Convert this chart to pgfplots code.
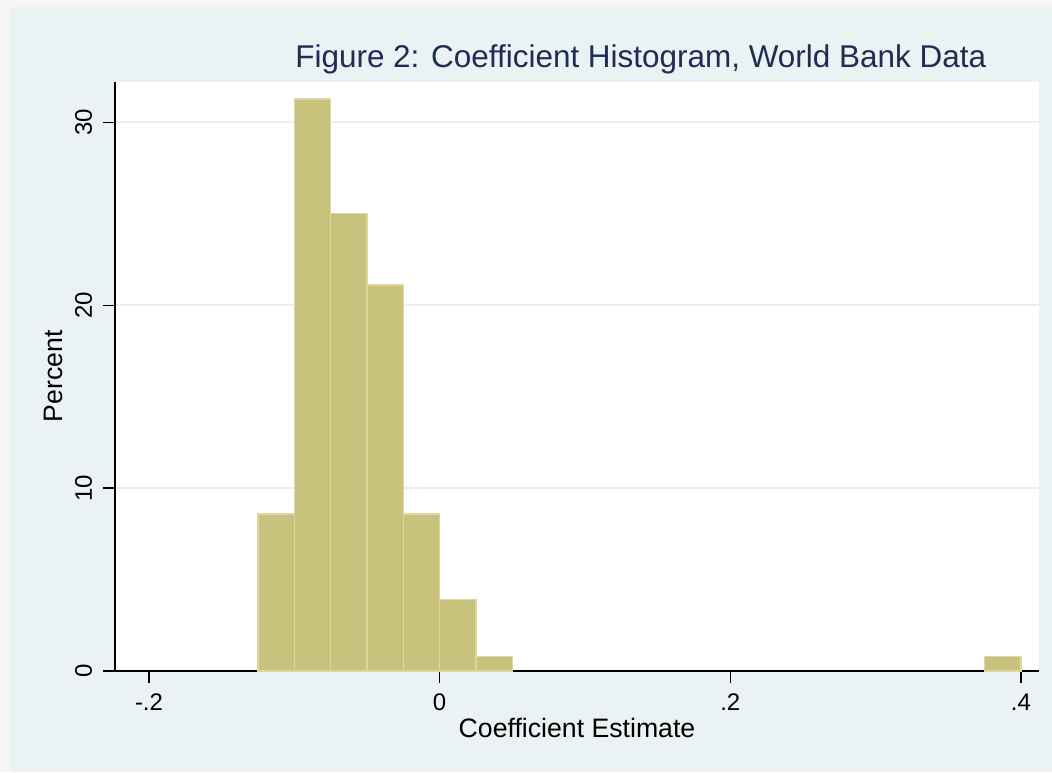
\documentclass[border=0pt]{standalone}
\usepackage{fontspec}
\setmainfont{Liberation Sans}
\usepackage{pgfplots}
\pgfplotsset{compat=1.18}
\definecolor{bgc}{RGB}{234,242,243}
\definecolor{nearwhite}{RGB}{246,246,246}
\definecolor{barfill}{RGB}{201,194,124}
\definecolor{baredge}{RGB}{220,216,162}
\definecolor{titlec}{RGB}{30,45,83}
\definecolor{gridc}{RGB}{232,240,242}
\begin{document}
\begin{tikzpicture}
\useasboundingbox (0,0) rectangle (789pt,579pt);
\fill[nearwhite] (0,0) rectangle (789pt,579pt);
\fill[bgc] (7.5pt,0pt) rectangle (789pt,573.75pt);
\begin{axis}[
  at={(86.25pt,75.75pt)}, anchor=south west,
  scale only axis, width=693pt, height=441.75pt,
  xmin=-0.2234, xmax=0.4124, ymin=0, ymax=32.19,
  axis lines=left, axis line style={-, line width=0.8pt, black},
  axis background/.style={fill=white},
  xtick={-0.2,0,0.2,0.4}, xticklabels={-.2,0,.2,.4},
  ytick={0,10,20,30},
  tick align=outside, major tick length=9pt,
  tick style={black, line width=0.8pt},
  ymajorgrids, major grid style={gridc, line width=1.8pt},
  tick label style={font=\fontsize{18}{20}\selectfont},
  /pgf/number format/assume math mode=true,
  yticklabel style={rotate=90, anchor=south, inner sep=0pt, yshift=8pt},
  xticklabel style={anchor=north, inner sep=0pt, yshift=-8pt},
  xlabel={Coefficient Estimate}, ylabel={Percent},
  label style={font=\fontsize{20}{22}\selectfont},
  xlabel style={at={(axis description cs:0.5,-0.0968)}, anchor=center},
  ylabel style={at={(axis description cs:-0.0671,0.5)}, anchor=center, rotate=0},
  title={Figure 2: Coefficient Histogram, World Bank Data},
  title style={font=\fontsize{23.6}{26}\selectfont, color=titlec, at={(axis description cs:0.569,1.0102)}, anchor=base},
  clip=false,
]
\addplot[ybar interval, fill=barfill, draw=baredge, line width=1.1pt] coordinates {
(-0.125,8.59) (-0.1,31.25) (-0.075,25.0) (-0.05,21.09) (-0.025,8.59) (0,3.91) (0.025,0.78) (0.05,0.78)};
\addplot[ybar interval, fill=barfill, draw=baredge, line width=1.1pt] coordinates {
(0.375,0.78) (0.4,0.78)};
\end{axis}
\end{tikzpicture}
\end{document}
